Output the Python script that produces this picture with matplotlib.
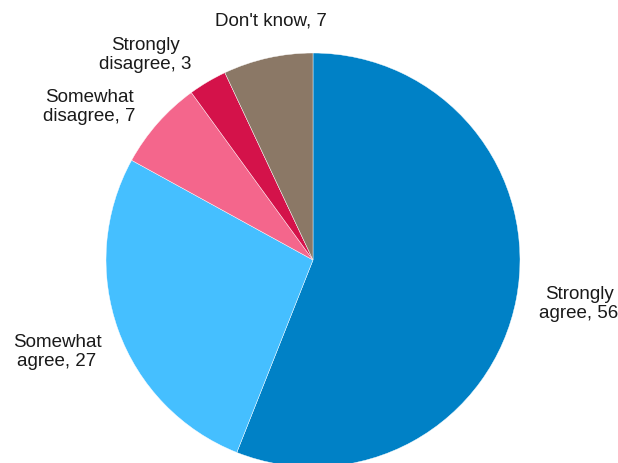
import matplotlib
matplotlib.use("Agg")
import matplotlib.pyplot as plt

plt.rcParams['font.family'] = ['Liberation Sans', 'DejaVu Sans']

categories = ["Strongly agree", "Somewhat agree", "Somewhat disagree",
              "Strongly disagree", "Don't know"]
values = [56, 27, 7, 3, 7]
colors = ["#0081c6", "#45bfff", "#f4668c", "#d4124a", "#8b7866"]
label_text = ["Strongly\nagree, 56", "Somewhat\nagree, 27", "Somewhat\ndisagree, 7",
              "Strongly\ndisagree, 3", "Don't know, 7"]
# label centres in pixels from top-left
label_pos = [(579, 304), (57, 352), (89, 107), (145, 55), (271, 21)]

W, H = 618, 464
fig = plt.figure(figsize=(W / 100, H / 100), dpi=100)

cx, cy, r = 313, 261, 207
ax = fig.add_axes([(cx - r) / W, (H - cy - r) / H, 2 * r / W, 2 * r / H])
ax.pie(values, colors=colors, startangle=90, counterclock=False, radius=1,
       wedgeprops=dict(linewidth=0.3, edgecolor="white"))
ax.set_xlim(-1, 1)
ax.set_ylim(-1, 1)
ax.set_aspect("equal")
ax.axis("off")

for txt, (x, y) in zip(label_text, label_pos):
    fig.text(x / W, 1 - y / H, txt, ha="center", va="center",
             fontsize=13.5, linespacing=1.2, color="#1a1a1a")

fig.savefig("out.png", dpi=100)
